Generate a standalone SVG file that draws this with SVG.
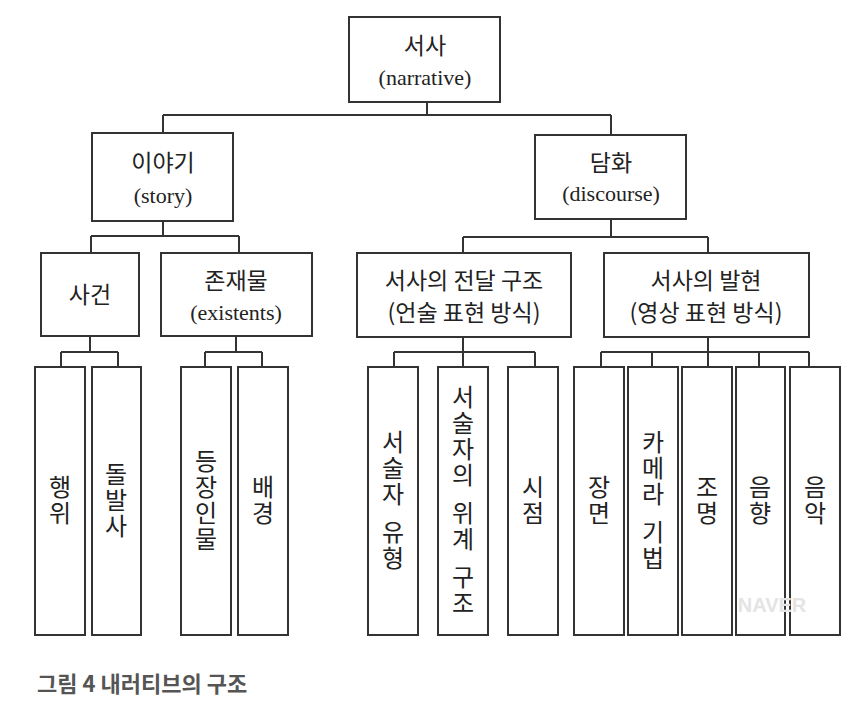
<svg xmlns="http://www.w3.org/2000/svg" width="867" height="715" viewBox="0 0 867 715">
<style>
rect{fill:#fff;stroke:#333;stroke-width:2}
.c path{fill:none;stroke:#333;stroke-width:2}
.k{font-family:"Noto Sans CJK KR",sans-serif;font-size:23px;fill:#222;text-anchor:middle}
.e{font-family:"Liberation Serif","Noto Sans CJK KR",serif;font-size:22px;fill:#222;text-anchor:middle}
.v{font-family:"Noto Sans CJK KR",sans-serif;font-size:24px;fill:#222;text-anchor:middle;writing-mode:vertical-rl;text-orientation:upright;letter-spacing:2px;word-spacing:-14px}
</style>
<rect x="0" y="0" width="867" height="715" style="fill:#fff;stroke:none"/>
<g class="c">
<path d="M427 102V115M163 115H611M163 115V133M611 115V135"/>
<path d="M163 221V236M91 236H239M91 236V253M239 236V253"/>
<path d="M611 219V237M463 237H708M463 237V253M708 237V253"/>
<path d="M90 336V352M61 352H118M61 352V367M118 352V367"/>
<path d="M236 336V352M205 352H262M205 352V367M262 352V367"/>
<path d="M463 337V367M394 352H535M394 352V367M535 352V367"/>
<path d="M708 337V367M601 352H809M601 352V367M652 352V367M759 352V367M809 352V367"/>
</g>
<g id="n-narrative"><rect x="349" y="17" width="151" height="85"/><text class="k" x="425" y="54">서사</text><text class="e" x="425" y="85">(narrative)</text></g>
<g id="n-story"><rect x="92" y="133" width="141" height="88"/><text class="k" x="163" y="171">이야기</text><text class="e" x="163" y="203">(story)</text></g>
<g id="n-discourse"><rect x="535" y="135" width="151" height="84"/><text class="k" x="611" y="171">담화</text><text class="e" x="611" y="201">(discourse)</text></g>
<g id="n-event"><rect x="41" y="253" width="98" height="83"/><text class="k" x="90" y="303">사건</text></g>
<g id="n-existents"><rect x="161" y="253" width="151" height="83"/><text class="k" x="236" y="289">존재물</text><text class="e" x="236" y="320">(existents)</text></g>
<g id="n-verbal"><rect x="357" y="253" width="214" height="84"/><text class="k" x="464" y="289">서사의 전달 구조</text><text class="k" x="464" y="321">(언술 표현 방식)</text></g>
<g id="n-visual"><rect x="604" y="253" width="205" height="84"/><text class="k" x="706" y="289">서사의 발현</text><text class="k" x="706" y="321">(영상 표현 방식)</text></g>
<g id="n-action"><rect x="35" y="367" width="50" height="268"/><text class="v" x="60" y="501">행위</text></g>
<g id="n-happening"><rect x="92" y="367" width="49" height="268"/><text class="v" x="116" y="501">돌발사</text></g>
<g id="n-characters"><rect x="181" y="367" width="50" height="268"/><text class="v" x="206" y="501">등장인물</text></g>
<g id="n-setting"><rect x="238" y="367" width="50" height="268"/><text class="v" x="263" y="501">배경</text></g>
<g id="n-narrator-type"><rect x="368" y="367" width="50" height="268"/><text class="v" x="393" y="501">서술자 유형</text></g>
<g id="n-narrator-hier"><rect x="438" y="367" width="50" height="268"/><text class="v" x="463" y="501">서술자의 위계 구조</text></g>
<g id="n-pov"><rect x="508" y="367" width="50" height="268"/><text class="v" x="533" y="501">시점</text></g>
<g id="n-scene"><rect x="574" y="367" width="50" height="268"/><text class="v" x="599" y="501">장면</text></g>
<g id="n-camera"><rect x="628" y="367" width="50" height="268"/><text class="v" x="653" y="501">카메라 기법</text></g>
<g id="n-lighting"><rect x="682" y="367" width="50" height="268"/><text class="v" x="707" y="501">조명</text></g>
<g id="n-sound"><rect x="736" y="367" width="49" height="268"/><text class="v" x="760" y="501">음향</text></g>
<g id="n-music"><rect x="790" y="367" width="50" height="268"/><text class="v" x="815" y="501">음악</text></g>
<text x="772" y="612" style="font-family:'Liberation Sans',sans-serif;font-size:20px;font-weight:bold;fill:#e4e4e4;text-anchor:middle">NAVER</text>
<text x="37" y="692" style="font-family:'Noto Sans CJK KR',sans-serif;font-size:22px;font-weight:bold;fill:#555">그림 4 내러티브의 구조</text>
</svg>
